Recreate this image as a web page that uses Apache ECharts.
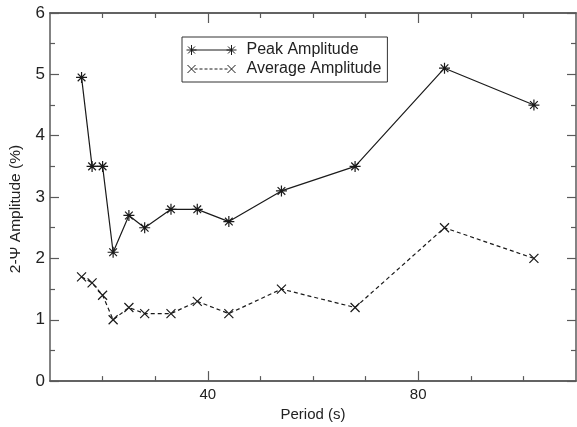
<!DOCTYPE html>
<html>
<head>
<meta charset="utf-8">
<script src="https://cdn.jsdelivr.net/npm/echarts@6/dist/echarts.min.js"></script>
<style>
html,body{margin:0;padding:0;background:#fff;}
#chart{width:577px;height:427px;}
</style>
</head>
<body>
<div id="chart"></div>
<script>
// ---- data ----
const periods = [16, 18, 20, 22, 25, 28, 33, 38, 44, 54, 68, 85, 102];
const peakAmplitude = [4.95, 3.5, 3.5, 2.1, 2.7, 2.5, 2.8, 2.8, 2.6, 3.1, 3.5, 5.1, 4.5];
const averageAmplitude = [1.7, 1.6, 1.4, 1.0, 1.2, 1.1, 1.1, 1.3, 1.1, 1.5, 1.2, 2.5, 2.0];
const xMajorTicks = [40, 80];
const xMinorTicks = [20, 30, 50, 60, 70, 90, 100];
const seriesNames = ['Peak Amplitude', 'Average Amplitude'];
const xTitle = 'Period (s)';
const yTitle = '2-\u03A8 Amplitude (%)';

const pair = (xs, ys) => xs.map((x, i) => [x, ys[i]]);

const FONT = '"Liberation Sans", Arial, Helvetica, sans-serif';
const AXIS_COLOR = '#5a5a5a';
const INK = '#1a1a1a';

const asterisk = 'path://M0,5L10,5M5,0L5,10M1.5,1.5L8.5,8.5M1.5,8.5L8.5,1.5';
const cross = 'path://M0,0L10,10M0,10L10,0';

const legendPeak = 'path://M0,5L10,5M5,0L5,10M1.5,1.5L8.5,8.5M1.5,8.5L8.5,1.5' +
  'M5,5L45,5' +
  'M40,5L50,5M45,0L45,10M41.5,1.5L48.5,8.5M41.5,8.5L48.5,1.5';
let dashes = '';
for (let x = 8; x < 42; x += 5) { dashes += 'M' + x + ',5L' + (x + 3) + ',5'; }
const legendAvg = 'path://M1,1L9,9M1,9L9,1' + dashes + 'M41,1L49,9M41,9L49,1M0,0M50,10';

function xAxisDef(pos, ticks, len, labels) {
  return {
    type: 'value', position: pos, min: 10, max: 110, gridIndex: 0,
    axisLine: { show: true, onZero: false, lineStyle: { color: AXIS_COLOR, width: 1.5 } },
    axisTick: { show: true, inside: true, length: len, customValues: ticks, lineStyle: { color: AXIS_COLOR, width: 1.2 } },
    axisLabel: labels ? { show: true, customValues: xMajorTicks, color: '#222', fontSize: 15, fontFamily: FONT, margin: 6 } : { show: false },
    splitLine: { show: false }
  };
}
function yAxisDef(pos, labels) {
  return {
    type: 'value', position: pos, min: 0, max: 6, interval: 1, gridIndex: 0,
    axisLine: { show: true, onZero: false, lineStyle: { color: AXIS_COLOR, width: 1.5 } },
    axisTick: { show: true, inside: true, length: 9, lineStyle: { color: AXIS_COLOR, width: 1.2 } },
    minorTick: { show: true, splitNumber: 2, length: 5, lineStyle: { color: AXIS_COLOR, width: 1.2 } },
    axisLabel: labels ? { show: true, color: '#222', fontSize: 17, fontFamily: FONT, margin: 5 } : { show: false },
    splitLine: { show: false },
    minorSplitLine: { show: false }
  };
}

const chart = echarts.init(document.getElementById('chart'), null, { renderer: 'canvas' });
const xMain = xAxisDef('bottom', xMajorTicks, 10, true);
xMain.name = xTitle;
xMain.nameLocation = 'middle';
xMain.nameGap = 22;
xMain.nameTextStyle = { fontSize: 15, color: '#222', fontFamily: FONT };
const yMain = yAxisDef('left', true);
yMain.name = yTitle;
yMain.nameLocation = 'middle';
yMain.nameGap = 26;
yMain.nameTextStyle = { fontSize: 15.5, color: '#222', fontFamily: FONT, padding: [0, 24, 0, 0] };

chart.setOption({
  animation: false,
  backgroundColor: '#fff',
  grid: { left: 49, right: 1, top: 13, bottom: 44 },
  xAxis: [
    xMain,
    xAxisDef('bottom', xMinorTicks, 5, false),
    xAxisDef('top', xMajorTicks, 10, false),
    xAxisDef('top', xMinorTicks, 5, false)
  ],
  yAxis: [yMain, yAxisDef('right', false)],
  legend: {
    orient: 'vertical', left: 182, top: 37,
    padding: [5, 6, 5, 4], itemGap: 3, itemWidth: 50, itemHeight: 10,
    borderColor: '#333', borderWidth: 1,
    backgroundColor: '#fff',
    textStyle: { fontSize: 16, lineHeight: 16, color: '#222', fontFamily: FONT, padding: [0, 0, 0, 5] },
    itemStyle: { color: INK, borderColor: INK, borderWidth: 1 },
    data: [
      { name: seriesNames[0], icon: legendPeak },
      { name: seriesNames[1], icon: legendAvg }
    ]
  },
  series: [
    {
      name: seriesNames[0], type: 'line', xAxisIndex: 0, yAxisIndex: 0,
      data: pair(periods, peakAmplitude),
      symbol: asterisk, symbolSize: 11,
      itemStyle: { color: INK, borderColor: INK, borderWidth: 1.2 },
      lineStyle: { color: INK, width: 1.2 },
      z: 3
    },
    {
      name: seriesNames[1], type: 'line', xAxisIndex: 0, yAxisIndex: 0,
      data: pair(periods, averageAmplitude),
      symbol: cross, symbolSize: 9,
      itemStyle: { color: INK, borderColor: INK, borderWidth: 1.2 },
      lineStyle: { color: INK, width: 1.2, type: [4, 3] },
      z: 3
    }
  ]
});
</script>
</body>
</html>
